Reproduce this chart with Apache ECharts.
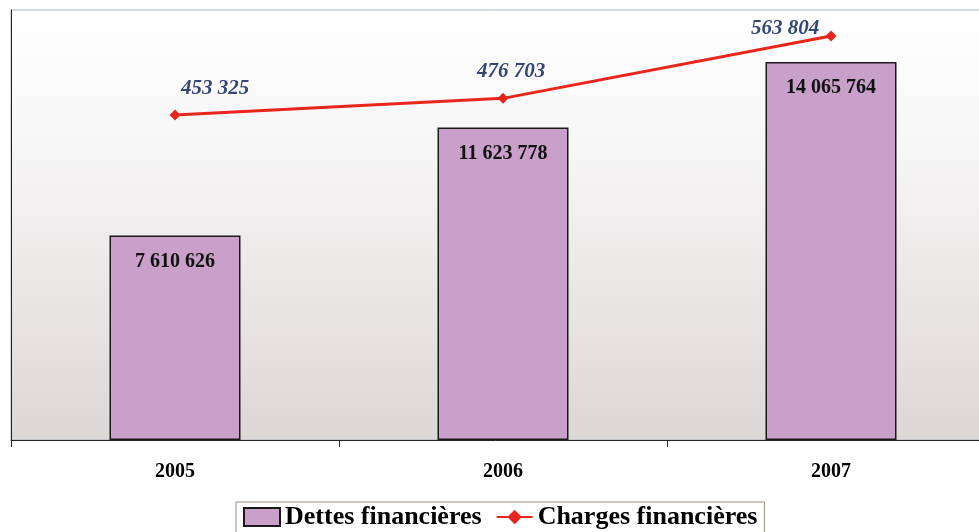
<!DOCTYPE html>
<html>
<head>
<meta charset="utf-8">
<script src="https://cdn.jsdelivr.net/npm/echarts@6/dist/echarts.min.js"></script>
<style>
  html, body { margin: 0; padding: 0; background: #fff; }
  #chart { width: 979px; height: 532px; }
</style>
</head>
<body>
<div id="chart"></div>
<script>
// données
const years = ['2005', '2006', '2007']
const dettes = [7610626, 11623778, 14065764]
const charges = [453325, 476703, 563804]

const serif = 'Liberation Serif, Times New Roman, serif'
// format "7 610 626"
const fmt = v => String(v).replace(/\B(?=(\d{3})+(?!\d))/g, ' ')

// décalage des étiquettes de la courbe
const chargeLabelOffsets = [[40, 0], [8, 0], [-46, 20]]

const chart = echarts.init(document.getElementById('chart'))

chart.setOption({
  animation: false,
  grid: {
    left: 11,
    top: 10,
    right: -16,
    height: 430,
    outerBoundsMode: 'none',
    show: true,
    borderWidth: 1,
    borderColor: '#aab4c0',
    backgroundColor: {
      type: 'linear', x: 0, y: 0, x2: 0, y2: 1,
      colorStops: [
        { offset: 0, color: '#ffffff' },
        { offset: 0.3, color: '#f8f7f7' },
        { offset: 1, color: '#dbd7d5' }
      ]
    }
  },
  legend: {
    left: 236,
    top: 502,
    padding: [2, 7, 8, 7],
    borderColor: '#9c8a80',
    borderWidth: 1,
    itemGap: 14,
    itemWidth: 36,
    itemHeight: 18,
    textStyle: { fontFamily: serif, fontWeight: 'bold', fontSize: 26, color: '#000' },
    data: [
      { name: 'Dettes financières', icon: 'rect' },
      'Charges financières'
    ]
  },
  xAxis: {
    type: 'category',
    data: years,
    axisLine: { lineStyle: { color: '#222', width: 1 } },
    axisTick: { show: true, length: 7, lineStyle: { color: '#222' } },
    axisLabel: { margin: 22, fontFamily: serif, fontWeight: 'bold', fontSize: 20, color: '#000' }
  },
  yAxis: [
    {
      type: 'value',
      min: 0,
      max: 16000000,
      axisLine: { show: true, lineStyle: { color: '#222' } },
      axisTick: { show: false },
      axisLabel: { show: false },
      splitLine: { show: false }
    },
    {
      type: 'value',
      min: 0,
      max: 600000,
      show: false,
      splitLine: { show: false }
    }
  ],
  series: [
    {
      name: 'Dettes financières',
      type: 'bar',
      data: dettes,
      barWidth: 131,
      itemStyle: { color: '#c8a0ca', borderColor: '#1a1a1a', borderWidth: 1.5 },
      label: {
        show: true,
        position: 'insideTop',
        distance: 16,
        formatter: p => fmt(p.value),
        fontFamily: serif,
        fontWeight: 'bold',
        fontSize: 20,
        color: '#111'
      }
    },
    {
      name: 'Charges financières',
      type: 'line',
      yAxisIndex: 1,
      data: charges.map((v, i) => ({
        value: v,
        label: { offset: chargeLabelOffsets[i] }
      })),
      symbol: 'diamond',
      symbolSize: 11,
      lineStyle: { color: '#e8261c', width: 3 },
      itemStyle: { color: '#e8261c' },
      label: {
        show: true,
        position: 'top',
        distance: 11,
        formatter: p => fmt(p.value),
        fontFamily: serif,
        fontStyle: 'italic',
        fontWeight: 'bold',
        fontSize: 21,
        color: '#34457a'
      },
      z: 5
    }
  ]
})
</script>
</body>
</html>
